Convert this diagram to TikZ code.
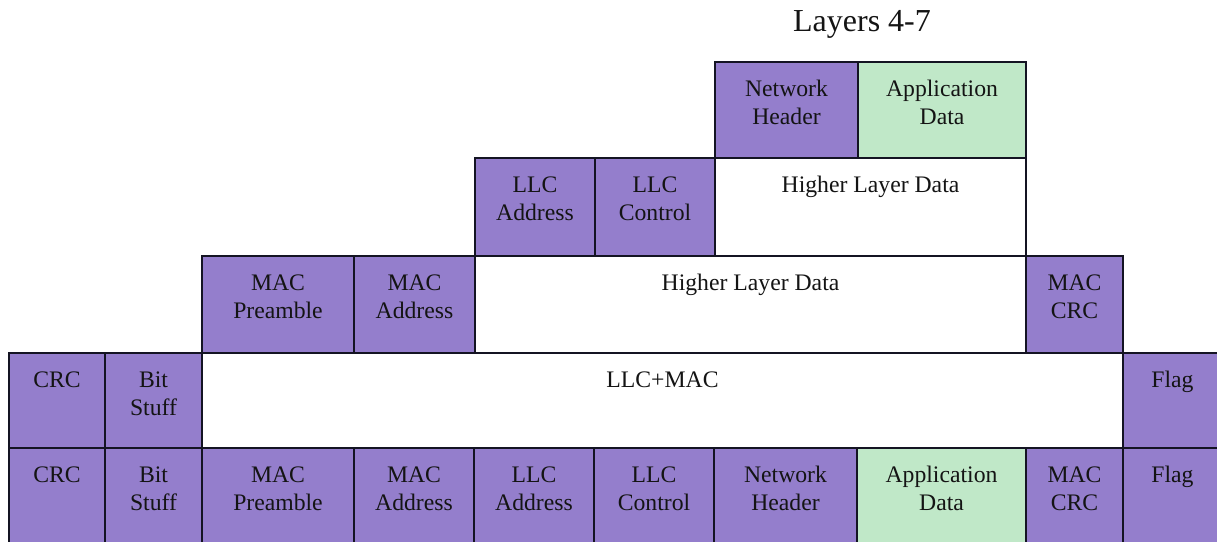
\documentclass[tikz,border=0pt]{standalone}
\usepackage{fontspec}
\setmainfont{Liberation Serif}
\definecolor{purp}{RGB}{148,126,204}
\definecolor{grn}{RGB}{192,232,200}
\definecolor{edge}{RGB}{20,20,35}
\tikzset{
  cell/.style={draw=edge,line width=1.8pt,inner sep=0pt,outer sep=0pt,rectangle},
  txt/.style={inner sep=0pt,align=center,text=black!92,font=\fontsize{23.7}{28}\selectfont},
}
\newcommand\mycell[7]{%
  \pgfmathsetmacro\cw{#4-#2}\pgfmathsetmacro\ch{#5-#3}%
  \node[cell,fill=#6,minimum width=\cw pt,minimum height=\ch pt,anchor=north west] (#1) at (#2,#3) {};
  \node[txt,anchor=north] (#1t) at ([yshift=-14.4pt]#1.north) {\strut #7};
}
\begin{document}
\begin{tikzpicture}[x=1pt,y=-1pt]
\useasboundingbox[fill=white] (0,0) rectangle (1217,541);
\node[inner sep=0pt,anchor=base,font=\fontsize{32}{38}\selectfont,text=black!92] (title) at (862,31) {Layers 4-7};
% row 1
\mycell{nh1}{715}{62}{858}{158}{purp}{Network\\Header}
\mycell{ad1}{858}{62}{1026}{158}{grn}{Application\\Data}
% row 2
\mycell{lla2}{475}{158}{595}{256}{purp}{LLC\\Address}
\mycell{llc2}{595}{158}{715}{256}{purp}{LLC\\Control}
\mycell{hld2}{715}{158}{1026}{256}{white}{Higher Layer Data}
% row 3
\mycell{mp3}{202}{256}{354}{353}{purp}{MAC\\Preamble}
\mycell{ma3}{354}{256}{475}{353}{purp}{MAC\\Address}
\mycell{hld3}{475}{256}{1026}{353}{white}{Higher Layer Data}
\mycell{mc3}{1026}{256}{1123}{353}{purp}{MAC\\CRC}
% row 4
\mycell{crc4}{9}{353}{105}{448}{purp}{CRC}
\mycell{bs4}{105}{353}{202}{448}{purp}{Bit\\Stuff}
\mycell{lm4}{202}{353}{1123}{448}{white}{LLC+MAC}
\mycell{fl4}{1123}{353}{1222}{448}{purp}{Flag}
% row 5
\mycell{crc5}{9}{448}{105}{546}{purp}{CRC}
\mycell{bs5}{105}{448}{202}{546}{purp}{Bit\\Stuff}
\mycell{mp5}{202}{448}{354}{546}{purp}{MAC\\Preamble}
\mycell{ma5}{354}{448}{474}{546}{purp}{MAC\\Address}
\mycell{lla5}{474}{448}{594}{546}{purp}{LLC\\Address}
\mycell{llc5}{594}{448}{714}{546}{purp}{LLC\\Control}
\mycell{nh5}{714}{448}{857}{546}{purp}{Network\\Header}
\mycell{ad5}{857}{448}{1026}{546}{grn}{Application\\Data}
\mycell{mc5}{1026}{448}{1123}{546}{purp}{MAC\\CRC}
\mycell{fl5}{1123}{448}{1222}{546}{purp}{Flag}
\end{tikzpicture}
\end{document}
